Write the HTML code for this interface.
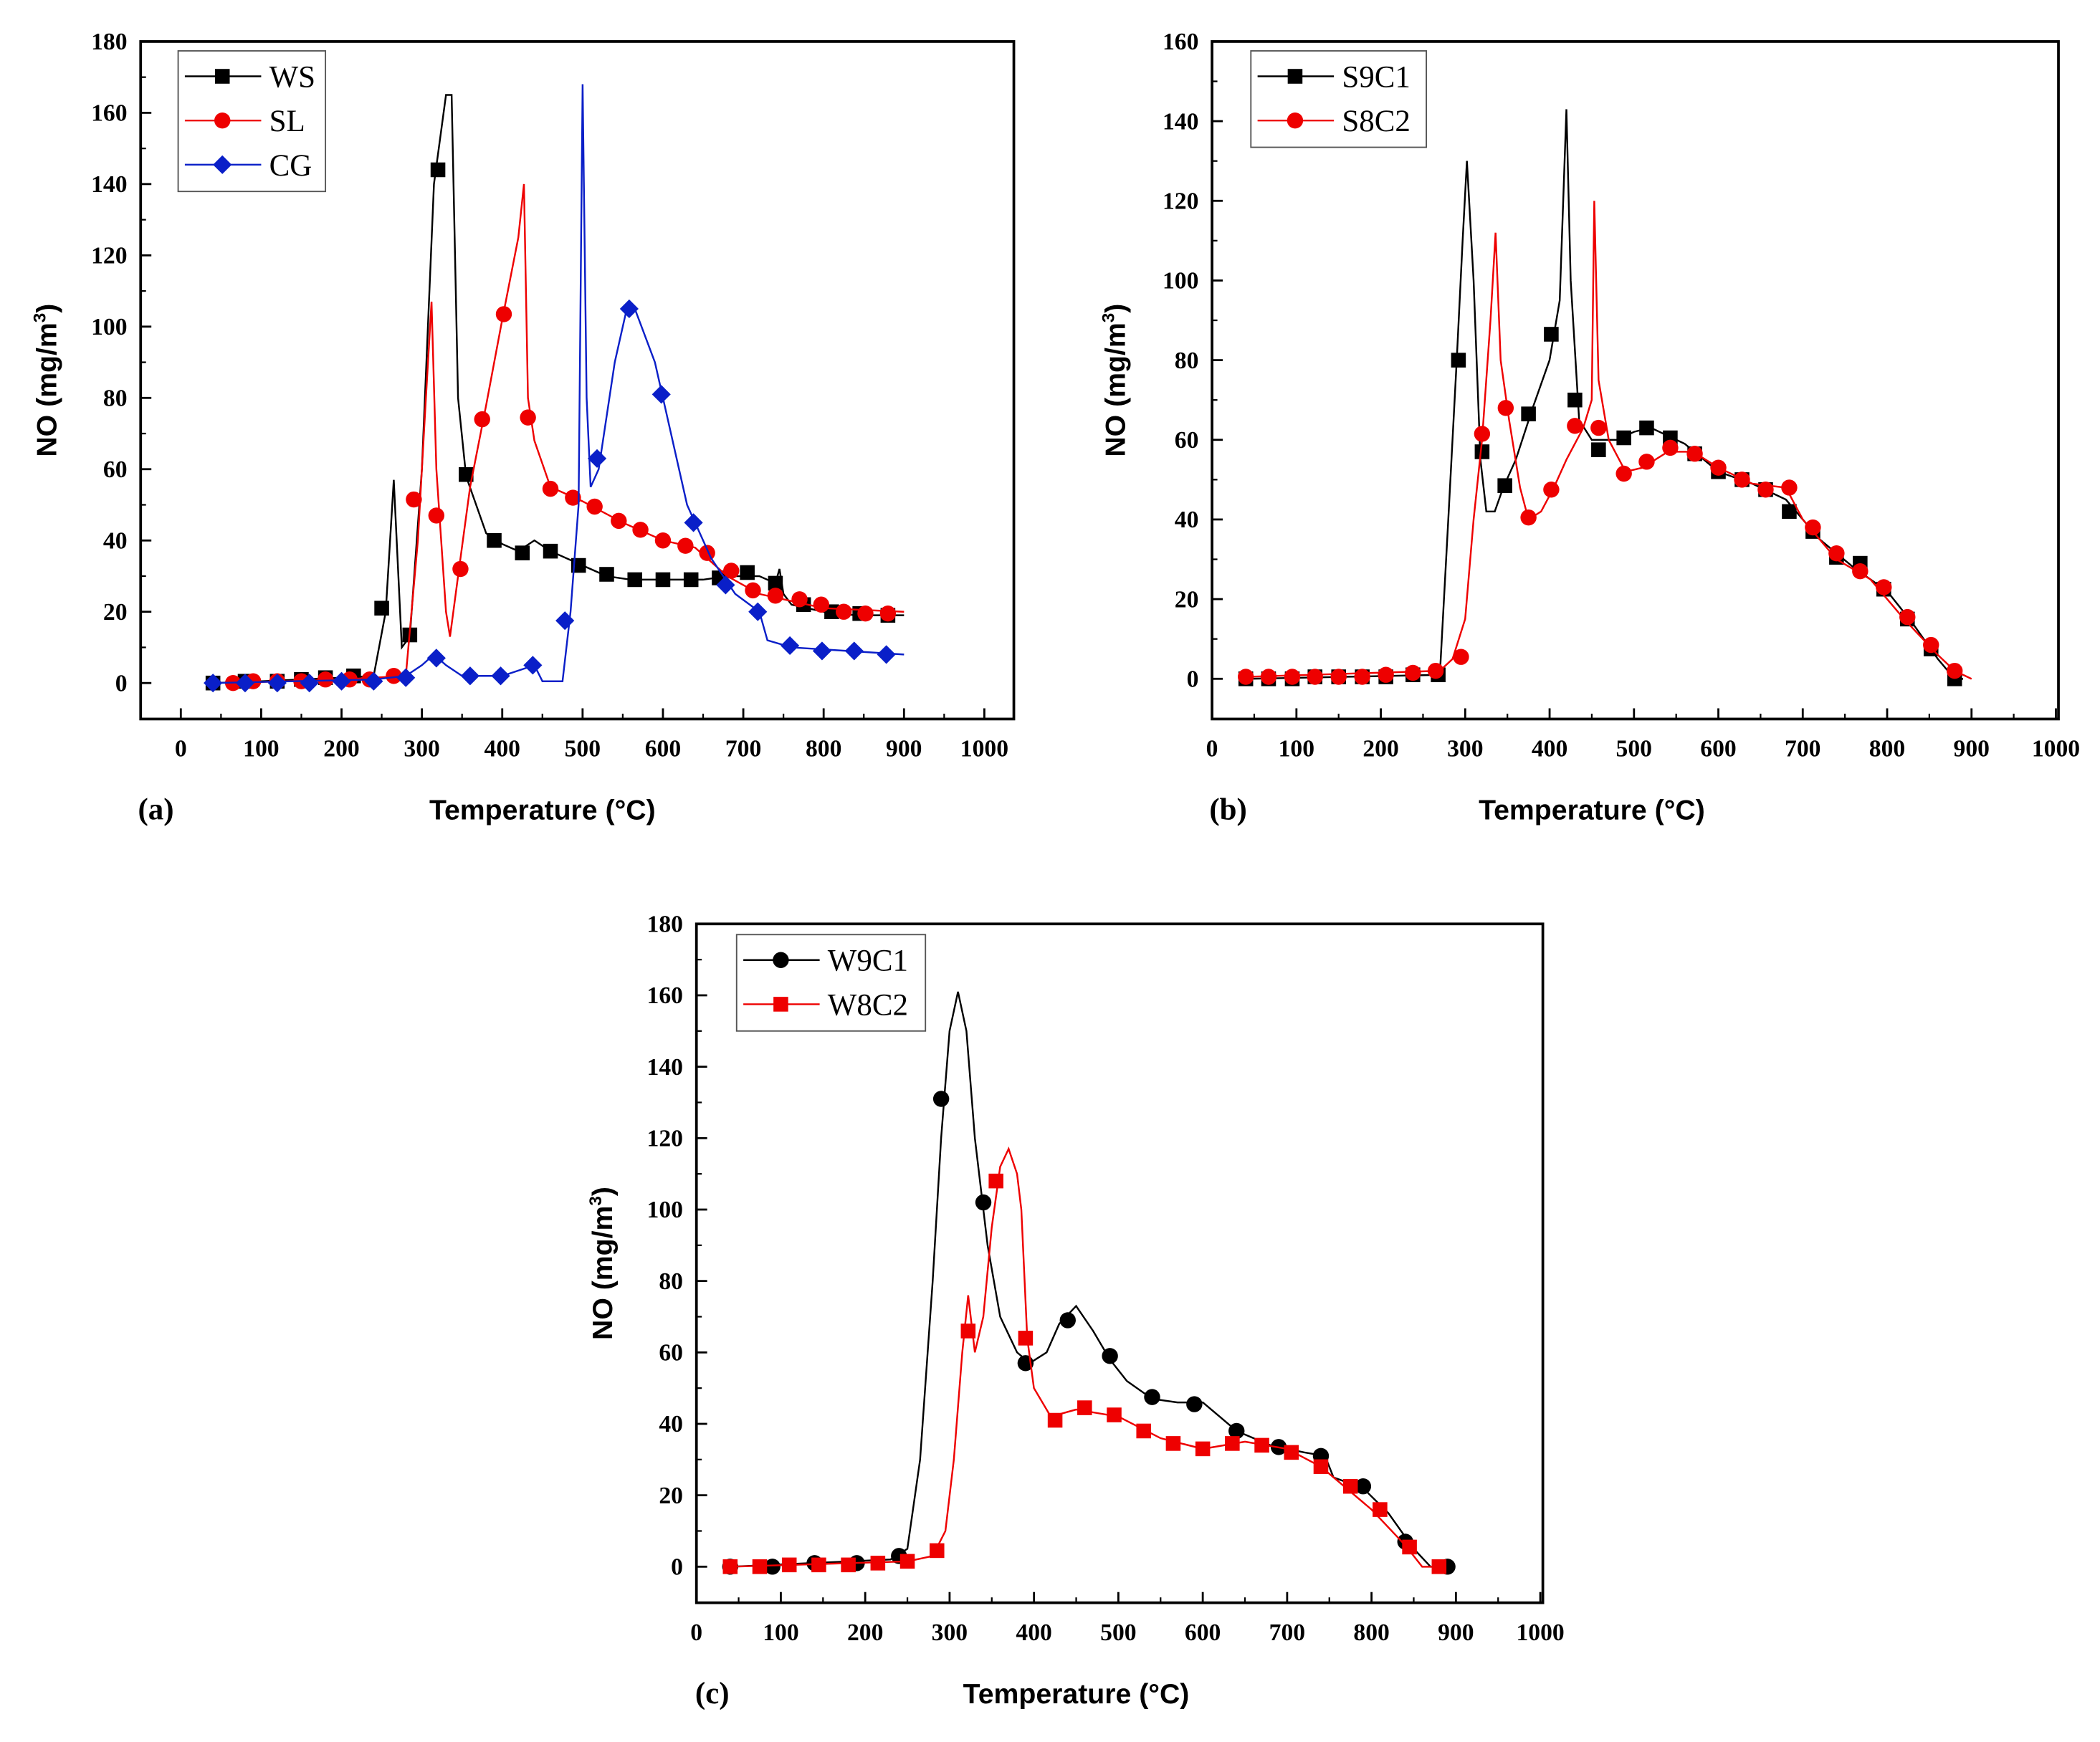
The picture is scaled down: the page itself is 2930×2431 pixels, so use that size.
<!DOCTYPE html>
<html><head><meta charset="utf-8"><style>
html,body{margin:0;padding:0;background:#fff}
svg{display:block}
.tk{font-family:"Liberation Serif",serif;font-weight:bold;font-size:18px}
.ti{font-family:"Liberation Sans",sans-serif;font-weight:bold;font-size:21px}
.lg{font-family:"Liberation Serif",serif;font-size:23px}
.pl{font-family:"Liberation Serif",serif;font-weight:bold;font-size:23px}
</style></head><body>
<svg id="fig" width="2930" height="2431" viewBox="0 0 1568 1301" xmlns="http://www.w3.org/2000/svg"></svg>
<script>
// ---- Panel (a) data ----
const wsCurveX=[40,100,200,240,255,265,275,285,300,315,330,337,345,355,380,400,420,440,460,500,530,560,650,680,720,740,745,750,760,800,840,900];
const wsCurveY=[0,0.5,1.5,2,20,57,10,13,60,140,165,165,80,58,42,39,37,40,37,33,30,29,29,30,30,28,32,25,22,20,19,19];
const wsMarkX=[40,80,120,150,180,215,250,285,320,355,390,425,460,495,530,565,600,635,670,705,740,775,810,845,880];
const wsMarkY=[0,0.5,0.5,1,1.5,2,21,13.5,144,58.5,40,36.5,37,33,30.5,29,29,29,29.5,31,28,22,20,19.5,19];
const slCurveX=[60,200,280,295,305,312,318,330,335,345,360,380,400,420,427,432,440,460,500,550,600,640,680,720,760,800,900];
const slCurveY=[0,1,2,40,80,107,60,20,13,30,55,78,102,125,140,80,68,55,51,45,40,38,30,25,23,21,20];
const slMarkX=[65,90,120,150,180,210,235,265,290,318,348,375,402,432,460,488,515,545,572,600,628,655,685,712,740,770,797,825,852,880];
const slMarkY=[0,0.5,0.5,0.5,1,1,1,2,51.5,47,32,74,103.5,74.5,54.5,52,49.5,45.5,43,40,38.5,36.5,31.5,26,24.5,23.5,22,20,19.5,19.5];
const cgCurveX=[40,240,280,300,315,330,350,400,440,450,475,485,495,500,505,510,520,540,555,565,590,610,630,660,690,720,730,760,900];
const cgCurveY=[0,1,2,5,8,5,2,2,5,0.5,0.5,20,50,168,80,55,60,90,105,105,90,70,50,35,25,20,12,10,8];
const cgMarkX=[40,80,120,160,200,240,280,318,360,398,438,478,518,558,598,638,678,718,758,798,838,878];
const cgMarkY=[0,0,0,0,0.5,0.5,1.5,7,2,2,5,17.5,63,105,81,45,27.5,20,10.5,9,9,8];
// ---- Panel (b) data ----
const s9CurveX=[40,270,280,290,297,302,310,318,325,335,345,360,380,400,412,420,425,435,450,480,500,520,560,600,640,680,720,760,800,830,860,880,890];
const s9CurveY=[0,1,40,80,110,130,100,55,42,42,48,55,68,80,95,143,100,65,60,60,62,63,59,52,49,45,35,28,22,14,5,0,0];
const s9MarkX=[40,67,95,122,150,178,206,238,268,292,320,347,375,402,430,458,488,515,543,572,600,628,656,684,712,740,768,796,824,852,880];
const s9MarkY=[0,0,0,0.5,0.5,0.5,0.5,1,1,80,57,48.5,66.5,86.5,70,57.5,60.5,63,60.5,56.5,52,50,47.5,42,37,30.5,29,22.5,15,7.5,0];
const s8CurveX=[40,270,285,300,310,320,330,336,342,352,365,375,390,405,420,440,450,453,458,470,490,510,540,570,600,640,680,700,740,780,820,860,880,900];
const s8CurveY=[0.5,2,5,15,40,60,90,112,80,65,48,40,42,48,55,63,70,120,75,60,52,53,57,57,53,49,48,40,30,25,15,6,2,0];
const s8MarkX=[40,67,95,122,150,178,206,238,265,295,320,348,375,402,430,458,488,515,543,572,600,628,656,684,712,740,768,796,824,852,880];
const s8MarkY=[0.5,0.5,0.5,0.5,0.5,0.5,1,1.5,2,5.5,61.5,68,40.5,47.5,63.5,63,51.5,54.5,58,56.5,53,50,47.5,48,38,31.5,27,23,15.5,8.5,2];
// ---- Panel (c) data ----
const w9CurveX=[40,230,250,265,280,290,300,310,320,330,345,360,380,395,415,430,450,470,490,510,540,570,600,620,640,680,720,745,755,790,820,850,870,890];
const w9CurveY=[0,2,5,30,80,120,150,161,150,120,90,70,60,57,60,68,73,66,58,52,47,46,46,42,38,34,32,31,25,22,15,5,0,0];
const w9MarkX=[40,90,140,190,240,290,340,390,440,490,540,590,640,690,740,790,840,890];
const w9MarkY=[0,0,1,1,3,131,102,57,69,59,47.5,45.5,38,33.5,31,22.5,7,0];
const w8CurveX=[40,250,280,295,305,315,322,330,340,350,360,370,380,385,392,400,420,450,500,550,600,650,700,740,770,800,840,860,880];
const w8CurveY=[0,1.5,3,10,30,60,76,60,70,95,112,117,110,100,64,50,42,44,42,36,33,35,33,28,22,16,6,0,0];
const w8MarkX=[40,75,110,145,180,215,250,285,322,355,390,425,460,495,530,565,600,635,670,705,740,775,810,845,880];
const w8MarkY=[0,0,0.5,0.5,0.5,1,1.5,4.5,66,108,64,41,44.5,42.5,38,34.5,33,34.5,34,32,28,22.5,16,5.5,0];
const xTicks=[0,100,200,300,400,500,600,700,800,900,1000];
const yTicksA=[0,20,40,60,80,100,120,140,160,180];
const yTicksB=[0,20,40,60,80,100,120,140,160];

const NS="http://www.w3.org/2000/svg";
const svg=document.getElementById('fig');
function el(tag,attrs,parent){const e=document.createElementNS(NS,tag);for(const k in attrs)e.setAttribute(k,attrs[k]);(parent||svg).appendChild(e);return e;}
function txt(s,attrs,parent){const e=el('text',attrs,parent);e.textContent=s;return e;}

function panel(name,box,xr,yr,yTicks,yTitleX,series,legend,label,labelPos){
  const g=el('g',{});
  
  
  const X=v=>box.x0+(v-xr[0])/(xr[1]-xr[0])*(box.x1-box.x0);
  const Y=v=>box.y1-(v-yr[0])/(yr[1]-yr[0])*(box.y1-box.y0);
  xTicks.forEach(t=>{
    const l=el('line',{x1:X(t),x2:X(t),y1:box.y1,y2:box.y1-8,stroke:'#000','stroke-width':1.5},g);
    
    if(t<1000) el('line',{x1:X(t+50),x2:X(t+50),y1:box.y1,y2:box.y1-4,stroke:'#000','stroke-width':1.2},g);
    const tl=txt(String(t),{x:X(t),y:box.y1+28,'text-anchor':'middle',class:'tk'},g);
    
  });
  yTicks.forEach(t=>{
    el('line',{x1:box.x0,x2:box.x0+8,y1:Y(t),y2:Y(t),stroke:'#000','stroke-width':1.5},g);
    if(t+10<=yr[1]) el('line',{x1:box.x0,x2:box.x0+4,y1:Y(t+10),y2:Y(t+10),stroke:'#000','stroke-width':1.2},g);
    const tl=txt(String(t),{x:box.x0-10,y:Y(t)+6,'text-anchor':'end',class:'tk'},g);
    
  });
  series.forEach(s=>{
    const sg=el('g',{},g);
    
    
    const d=s.cx.map((v,i)=>(i?'L':'M')+X(v).toFixed(1)+','+Y(s.cy[i]).toFixed(1)).join('');
    el('path',{d:d,fill:'none',stroke:s.color,'stroke-width':1.3},sg);
    s.mx.forEach((v,i)=>{const m=marker(s.shape,X(v),Y(s.my[i]),s.color,sg);
      
      });
  });
  const r=el('rect',{x:box.x0,y:box.y0,width:box.x1-box.x0,height:box.y1-box.y0,fill:'none',stroke:'#000','stroke-width':2},g);
  
  const lg=el('g',{},g);
  
  el('rect',{x:legend.x,y:legend.y,width:legend.w,height:series.length*33+6,fill:'#fff',stroke:'#555','stroke-width':1},lg);
  series.forEach((s,i)=>{
    const yy=legend.y+19+i*33;
    const e=el('g',{},lg);
    
    el('line',{x1:legend.x+5,x2:legend.x+62,y1:yy,y2:yy,stroke:s.color,'stroke-width':1.3},e);
    marker(s.shape,legend.x+33,yy,s.color,e);
    txt(s.name,{x:legend.x+68,y:yy+8,class:'lg'},e);
  });
  const yt=txt('NO (mg/m',{transform:`translate(${yTitleX},${(box.y0+box.y1)/2}) rotate(-90)`,'text-anchor':'middle',class:'ti'},g);
  const sup=el('tspan',{dy:-8,'font-size':13},yt);sup.textContent='3';
  const cl=el('tspan',{dy:8},yt);cl.textContent=')';
  
  const xt=txt('Temperature (°C)',{x:(X(0)+X(900))/2,y:labelPos[1],'text-anchor':'middle',class:'ti'},g);
  
  const pl=txt(label,{x:labelPos[0],y:labelPos[1],class:'pl'},g);
  
}
function marker(shape,x,y,c,p){
  if(shape==='sq') return el('rect',{x:x-5.5,y:y-5.5,width:11,height:11,fill:c},p);
  if(shape==='ci') return el('circle',{cx:x,cy:y,r:6,fill:c},p);
  return el('polygon',{points:`${x},${y-7} ${x+7},${y} ${x},${y+7} ${x-7},${y}`,fill:c},p);
}
panel('a',{x0:105,x1:757,y0:31,y1:537},[-50,1036.7],[-10.1,180],yTicksA,42,
 [{name:'WS',color:'#000',shape:'sq',cx:wsCurveX,cy:wsCurveY,mx:wsMarkX,my:wsMarkY},
  {name:'SL',color:'#e00',shape:'ci',cx:slCurveX,cy:slCurveY,mx:slMarkX,my:slMarkY},
  {name:'CG',color:'#0a1fc8',shape:'di',cx:cgCurveX,cy:cgCurveY,mx:cgMarkX,my:cgMarkY}],
 {x:133,y:38,w:110},'(a)',[103,612]);
panel('b',{x0:905,x1:1537,y0:31,y1:537},[0,1003],[-10.1,160],yTicksB,840,
 [{name:'S9C1',color:'#000',shape:'sq',cx:s9CurveX,cy:s9CurveY,mx:s9MarkX,my:s9MarkY},
  {name:'S8C2',color:'#e00',shape:'ci',cx:s8CurveX,cy:s8CurveY,mx:s8MarkX,my:s8MarkY}],
 {x:934,y:38,w:131},'(b)',[903,612]);
panel('c',{x0:520,x1:1152,y0:690,y1:1197},[0,1003],[-10.1,180],yTicksA,457,
 [{name:'W9C1',color:'#000',shape:'ci',cx:w9CurveX,cy:w9CurveY,mx:w9MarkX,my:w9MarkY},
  {name:'W8C2',color:'#e00',shape:'sq',cx:w8CurveX,cy:w8CurveY,mx:w8MarkX,my:w8MarkY}],
 {x:550,y:698,w:141},'(c)',[519,1272]);
</script>
</body></html>
